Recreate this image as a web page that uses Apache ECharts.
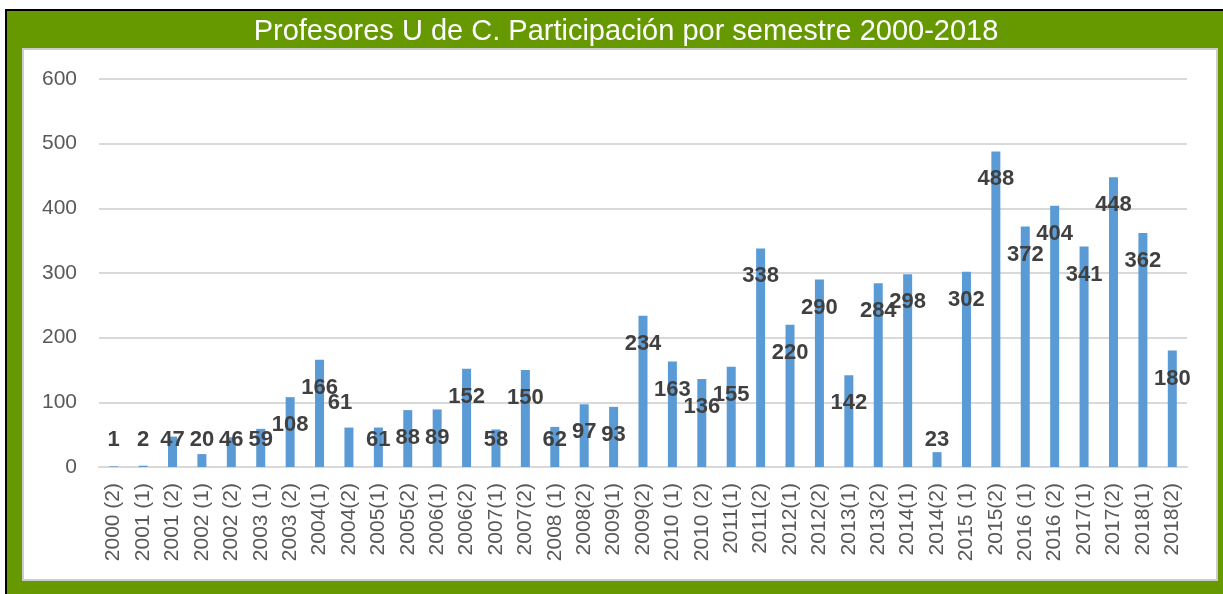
<!DOCTYPE html>
<html>
<head>
<meta charset="utf-8">
<style>
html,body{margin:0;padding:0;background:#fff;}
#chart{width:1223px;height:594px;}
</style>
<script src="https://cdn.jsdelivr.net/npm/echarts@6/dist/echarts.min.js"></script>
</head>
<body>
<div id="chart"></div>
<script>
const titleText = 'Profesores U de C. Participación por semestre 2000-2018';
const categories = [
  '2000 (2)','2001 (1)','2001 (2)','2002 (1)','2002 (2)','2003 (1)','2003 (2)',
  '2004(1)','2004(2)','2005(1)','2005(2)','2006(1)','2006(2)','2007(1)','2007(2)',
  '2008 (1)','2008(2)','2009(1)','2009(2)','2010 (1)','2010 (2)','2011(1)','2011(2)',
  '2012(1)','2012(2)','2013(1)','2013(2)','2014(1)','2014(2)','2015 (1)','2015(2)',
  '2016 (1)','2016 (2)','2017(1)','2017(2)','2018(1)','2018(2)'
];
const values = [
  1, 2, 47, 20, 46, 59, 108,
  166, 61, 61, 88, 89, 152, 58, 150,
  62, 97, 93, 234, 163, 136, 155, 338,
  220, 290, 142, 284, 298, 23, 302, 488,
  372, 404, 341, 448, 362, 180
];
const yTicks = { min: 0, max: 600, interval: 100 };

const chart = echarts.init(document.getElementById('chart'));

const seriesData = values.map((v, i) => {
  let label;
  if (i === 8) {
    label = { position: 'top', distance: 14, offset: [-9, 0] };
  } else if (v < 85) {
    label = { position: 'insideBottom', distance: 16 };
  } else {
    label = { position: 'insideTop', distance: 17 };
  }
  return { value: v, label: label };
});

const option = {
  backgroundColor: '#ffffff',
  animation: false,
  graphic: [
    { type: 'rect', z: -10, shape: { x: 5, y: 9, width: 1230, height: 600 }, style: { fill: '#000000' } },
    { type: 'rect', z: -9, shape: { x: 7, y: 11, width: 1230, height: 600 }, style: { fill: '#669900' } },
    { type: 'rect', z: -8, shape: { x: 23, y: 49, width: 1194, height: 531 }, style: { fill: '#ffffff', stroke: '#cccccc', lineWidth: 2 } }
  ],
  title: {
    text: titleText,
    left: 621,
    top: 12,
    textAlign: 'center',
    textStyle: { color: '#ffffff', fontSize: 29, fontWeight: 'normal', fontFamily: 'Liberation Sans' }
  },
  grid: { left: 99, right: 36, top: 79, bottom: 127, containLabel: false },
  xAxis: {
    type: 'category',
    data: categories,
    axisLine: { show: true, lineStyle: { color: '#d9d9d9', width: 2 } },
    axisTick: { show: false },
    axisLabel: {
      interval: 0, rotate: 90, margin: 16,
      color: '#595959', fontSize: 21, fontFamily: 'Liberation Sans'
    }
  },
  yAxis: {
    type: 'value',
    min: yTicks.min, max: yTicks.max, interval: yTicks.interval,
    axisLine: { show: false },
    axisTick: { show: false },
    splitLine: { lineStyle: { color: '#d9d9d9', width: 2 } },
    axisLabel: { margin: 22, color: '#595959', fontSize: 21, fontFamily: 'Liberation Sans' }
  },
  series: [{
    type: 'bar',
    data: seriesData,
    barWidth: 9,
    itemStyle: { color: '#5b9bd5' },
    label: {
      show: true,
      color: '#404040',
      fontSize: 22,
      fontWeight: 'bold',
      fontFamily: 'Liberation Sans'
    }
  }]
};
chart.setOption(option);
</script>
</body>
</html>
